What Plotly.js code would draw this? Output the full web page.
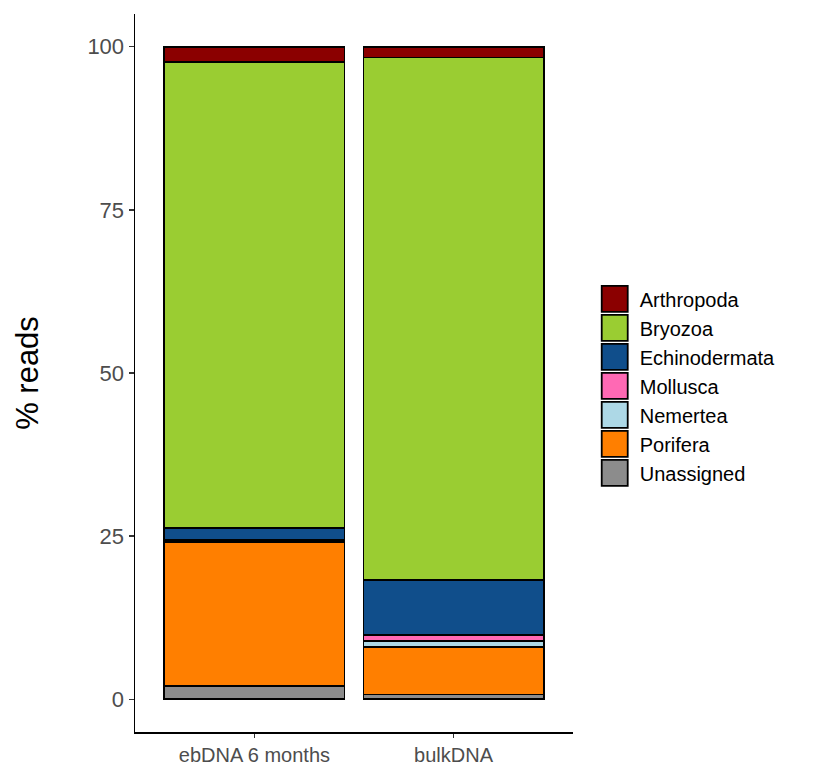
<!DOCTYPE html>
<html>
<head>
<meta charset="utf-8">
<script src="https://cdn.plot.ly/plotly-3.0.1.min.js"></script>
<style>html,body{margin:0;padding:0;background:#fff;}</style>
</head>
<body>
<div id="chart" style="width:818px;height:766px;"></div>
<script>
const samples = ["ebDNA 6 months", "bulkDNA"];
// stacked from bottom to top
const taxa = ["Unassigned", "Porifera", "Nemertea", "Mollusca", "Echinodermata", "Bryozoa", "Arthropoda"];
const colors = ["#8c8c8c", "#ff7f00", "#add8e6", "#ff69b4", "#104e8b", "#9acd32", "#8b0000"];
const unassigned = [2.1, 0.75];
const porifera = [22.0, 7.25];
const nemertea = [0.35, 0.9];
const mollusca = [0.0, 0.95];
const echinodermata = [1.8, 8.4];
const bryozoa = [71.35, 80.1];
const arthropoda = [2.4, 1.65];
const values = [unassigned, porifera, nemertea, mollusca, echinodermata, bryozoa, arthropoda];

const traces = taxa.map((t, i) => ({
  type: "bar",
  name: t,
  x: samples,
  y: values[i],
  marker: {color: colors[i], line: {color: "#000", width: 1.8}},
  hoverinfo: "name+y"
}));

const layout = {
  width: 818, height: 766,
  margin: {l: 135, r: 245, t: 14, b: 34},
  barmode: "stack",
  bargap: 0.095,
  paper_bgcolor: "#fff",
  plot_bgcolor: "#fff",
  font: {family: "Liberation Sans, Arial, sans-serif", color: "#000"},
  xaxis: {
    range: [-0.6, 1.6],
    showgrid: false, zeroline: false,
    showline: true, linecolor: "#000", linewidth: 1.5,
    ticks: "outside", ticklen: 4, tickcolor: "#333", tickwidth: 1.5,
    tickfont: {size: 20, color: "#4d4d4d"}
  },
  yaxis: {
    range: [-5, 105],
    tickvals: [0, 25, 50, 75, 100],
    showgrid: false, zeroline: false,
    showline: true, linecolor: "#000", linewidth: 1.5,
    ticks: "outside", ticklen: 5, tickcolor: "#333", tickwidth: 1.5,
    tickfont: {size: 22, color: "#4d4d4d"},
    title: {text: "% reads", font: {size: 31, color: "#000"}, standoff: 39}
  },
  legend: {
    x: 1.061, xanchor: "left", y: 0.482, yanchor: "middle",
    font: {size: 20, color: "#000"},
    bgcolor: "rgba(0,0,0,0)",
    traceorder: "reversed",
    tracegroupgap: 0,
    itemclick: false
  },
  showlegend: true
};

Plotly.newPlot("chart", traces, layout, {displayModeBar: false, staticPlot: true}).then(() => {
  document.querySelectorAll(".legend .legendpoints path").forEach(p => {
    p.setAttribute("d", "M13,13H-13V-13H13Z");
    p.setAttribute("transform", "translate(15,0)");
    p.style.strokeWidth = "1.8px";
  });
});
</script>
</body>
</html>
